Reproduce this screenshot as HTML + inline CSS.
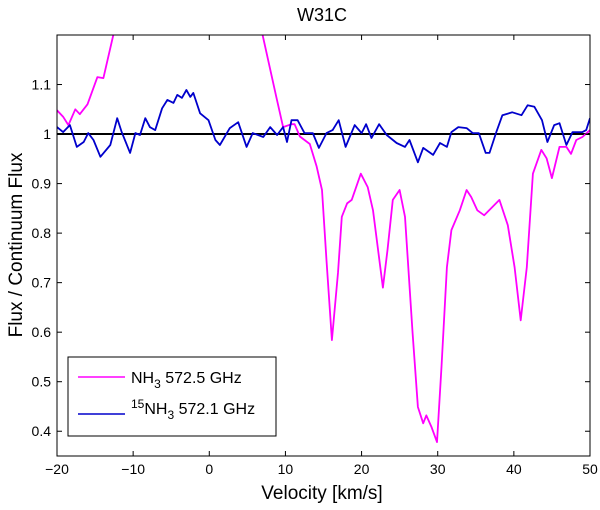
<!DOCTYPE html>
<html><head><meta charset="utf-8">
<style>
body{margin:0;background:#fff;}
svg text{font-family:"Liberation Sans",sans-serif;fill:#000;}
</style></head>
<body>
<svg id="chart" width="600" height="505" viewBox="0 0 600 505" xmlns="http://www.w3.org/2000/svg">
<defs><clipPath id="clip"><rect x="57" y="35" width="533" height="421"/></clipPath></defs>
<rect width="600" height="505" fill="#fff"/>
<text x="322" y="21" font-size="18" text-anchor="middle">W31C</text>
<g id="plot" clip-path="url(#clip)"></g>
<rect x="57" y="35" width="533" height="421" fill="none" stroke="#000" stroke-width="1"/>
<g id="axes"></g>
<text x="322" y="499" font-size="19" text-anchor="middle">Velocity [km/s]</text>
<text transform="translate(22,245) rotate(-90)" font-size="19" text-anchor="middle">Flux / Continuum Flux</text>
<g>
<rect x="68" y="357" width="208" height="79" fill="#fff" stroke="#000" stroke-width="1"/>
<line x1="78" y1="377" x2="125" y2="377" stroke="#ff00ff" stroke-width="1.5"/>
<text x="131" y="383" font-size="16">NH<tspan font-size="12" dy="5">3</tspan><tspan dy="-5"> 572.5 GHz</tspan></text>
<line x1="78" y1="414" x2="125" y2="414" stroke="#0000cc" stroke-width="1.5"/>
<text x="131" y="414" font-size="16"><tspan font-size="12" dy="-6">15</tspan><tspan dy="6">NH</tspan><tspan font-size="12" dy="5">3</tspan><tspan dy="-5"> 572.1 GHz</tspan></text>
</g>
</svg>
<script>
const xTicks=[-20,-10,0,10,20,30,40,50];
const yTicks=[0.4,0.5,0.6,0.7,0.8,0.9,1,1.1];
const yTickLabels=["0.4","0.5","0.6","0.7","0.8","0.9","1","1.1"];
const nh3V=[-20,-19.2,-18.5,-17.6,-17,-16,-14.7,-13.9,-12.6,-11.5,6.5,7,8.8,9.7,10.8,11.2,11.9,13.2,14.1,14.8,15.4,16.1,16.9,17.4,18.1,18.7,19.9,20.8,21.5,22.8,23.4,24.1,25,25.7,26.7,27.4,28.1,28.5,29.2,29.9,30.5,31.2,31.8,32.9,33.8,34.4,35.2,36.1,37.2,38.1,39.2,40.1,40.9,41.7,42.5,43.6,44.3,45,46,46.9,47.5,48.2,49,50];
const nh3F=[1.048,1.035,1.018,1.05,1.04,1.06,1.115,1.113,1.2,1.3,1.3,1.2,1.075,1.014,1.02,1.02,0.995,0.98,0.935,0.887,0.745,0.584,0.72,0.833,0.86,0.867,0.92,0.893,0.846,0.69,0.766,0.867,0.887,0.833,0.598,0.449,0.416,0.432,0.408,0.378,0.53,0.731,0.806,0.846,0.887,0.873,0.846,0.836,0.853,0.867,0.816,0.731,0.624,0.731,0.92,0.968,0.951,0.911,0.974,0.974,0.96,0.988,0.994,1.008];
const n15V=[-20,-19.2,-18.3,-17.4,-16.5,-15.9,-15.2,-14.3,-13,-12.1,-11.5,-10.4,-9.7,-9.1,-8.4,-7.8,-7.1,-6.2,-5.5,-4.7,-4.2,-3.6,-3,-2.5,-2.1,-1.2,-0.1,0.8,1.4,2.7,3.8,4.9,5.7,7.1,8,8.9,9.7,10.2,10.8,11.6,12.5,13.6,14.4,15.4,16.2,17,17.9,19.1,20,20.6,21.3,22.3,23.3,24.6,25.7,26.3,27.4,28.1,29.4,30.3,31.2,31.8,32.7,33.8,34.6,35.4,36.3,36.8,37.7,38.5,39.8,41,41.8,42.7,43.7,44.4,45.3,46,46.9,47.7,49,49.5,50];
const n15F=[1.014,1.004,1.018,0.974,0.984,1.002,0.988,0.954,0.978,1.032,1.004,0.962,1.002,0.998,1.032,1.014,1.008,1.052,1.069,1.063,1.079,1.073,1.089,1.075,1.083,1.042,1.028,0.988,0.978,1.012,1.024,0.974,1.002,0.994,1.014,0.998,1.014,0.984,1.028,1.028,1.002,1.002,0.972,1.002,1.008,1.028,0.974,1.018,1.002,1.02,0.992,1.02,0.998,0.982,0.974,0.988,0.943,0.972,0.958,0.982,0.974,1.004,1.014,1.012,1.002,1.002,0.962,0.962,1.004,1.038,1.044,1.038,1.058,1.055,1.028,0.984,1.018,1.022,0.978,1.004,1.004,1.008,1.032];
const X0=57,X1=590,Y0=456,Y1=35,xmin=-20,xmax=50,ymin=0.35,ymax=1.2;
function sx(v){return X0+(v-xmin)/(xmax-xmin)*(X1-X0);}
function sy(f){return Y0-(f-ymin)/(ymax-ymin)*(Y0-Y1);}
const NS="http://www.w3.org/2000/svg";
const plot=document.getElementById('plot'),axes=document.getElementById('axes');
function mk(t,a,p){const e=document.createElementNS(NS,t);for(const k in a)e.setAttribute(k,a[k]);p.appendChild(e);return e;}
const ref=mk('line',{x1:X0,x2:X1,y1:sy(1),y2:sy(1),stroke:'#000','stroke-width':2},plot);


function path(V,F){return V.map((v,i)=>(i?'L':'M')+sx(v).toFixed(1)+' '+sy(F[i]).toFixed(1)).join(' ');}
const p1=mk('path',{d:path(nh3V,nh3F),fill:'none',stroke:'#ff00ff','stroke-width':1.8,'stroke-linejoin':'round'},plot);


const p2=mk('path',{d:path(n15V,n15F),fill:'none',stroke:'#0000cc','stroke-width':1.8,'stroke-linejoin':'round'},plot);


xTicks.forEach(v=>{const x=sx(v);
 const a=mk('line',{x1:x,x2:x,y1:Y0,y2:Y0-5,stroke:'#000'},axes);
 
 
 const b=mk('line',{x1:x,x2:x,y1:Y1,y2:Y1+5,stroke:'#000'},axes);
 
 
 const t=mk('text',{x:x,y:Y0+18,'font-size':14,'text-anchor':'middle'},axes);t.textContent=(v<0?'\u2212'+(-v):v);
 
 
});
yTicks.forEach((f,i)=>{const y=sy(f);
 const a=mk('line',{x1:X0,x2:X0+5,y1:y,y2:y,stroke:'#000'},axes);
 
 
 const b=mk('line',{x1:X1,x2:X1-5,y1:y,y2:y,stroke:'#000'},axes);
 
 
 const t=mk('text',{x:X0-6,y:y+5,'font-size':14,'text-anchor':'end'},axes);t.textContent=yTickLabels[i];
 
 
});
</script>
</body></html>
